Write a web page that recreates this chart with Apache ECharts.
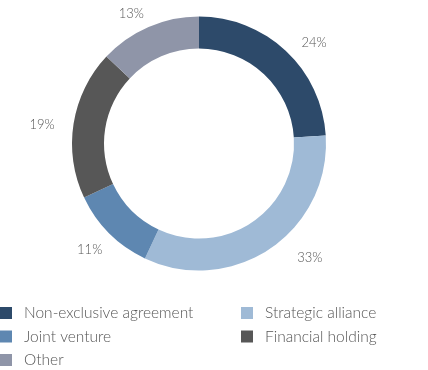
<!DOCTYPE html>
<html><head><meta charset="utf-8">
<script src="https://cdn.jsdelivr.net/npm/echarts@6/dist/echarts.min.js"></script>
<style>html,body{margin:0;padding:0;background:#fff}#c{width:428px;height:370px}</style>
</head><body><div id="c"></div>
<script>
const categories = ['Non-exclusive agreement', 'Strategic alliance', 'Joint venture', 'Financial holding', 'Other'];
const values = [24, 33, 11, 19, 13];
const colors = ['#2d4a6a', '#9fbad6', '#5e87b1', '#575757', '#8f95a8'];
const legendCol1 = ['Non-exclusive agreement', 'Joint venture', 'Other'];
const legendCol2 = ['Strategic alliance', 'Financial holding'];

const font = 'Lato, "Open Sans", sans-serif';
const chart = echarts.init(document.getElementById('c'), null, {renderer: 'canvas'});
const legendBase = {
  orient: 'vertical', top: 305, padding: 0, itemWidth: 12, itemHeight: 12, itemGap: 7.5,
  icon: 'rect', selectedMode: false,
  textStyle: {fontFamily: font, fontSize: 15.5, fontWeight: 300, color: '#555', lineHeight: 16, padding: [0, 0, 0, 7]}
};
// small label nudges (Excel-style best-fit label placement)
const nudge = [[-1, 2], [12, -2], [10, 7], [2, 3], [8, 0]];
chart.setOption({
  animation: false,
  color: colors,
  legend: [
    Object.assign({}, legendBase, {left: 0, data: legendCol1}),
    Object.assign({}, legendBase, {left: 241, data: legendCol2})
  ],
  series: [{
    type: 'pie',
    center: [199, 143.5],
    radius: [95, 127],
    startAngle: 90,
    clockwise: true,
    avoidLabelOverlap: false,
    label: {
      show: true, position: 'outside', formatter: '{c}%',
      fontFamily: font, fontSize: 13, fontWeight: 300, color: '#555'
    },
    labelLine: {show: false, length: 14, length2: 2},
    labelLayout: p => ({dx: nudge[p.dataIndex][0], dy: nudge[p.dataIndex][1]}),
    emphasis: {disabled: true},
    data: categories.map((n, i) => ({name: n, value: values[i]}))
  }]
});
</script></body></html>
